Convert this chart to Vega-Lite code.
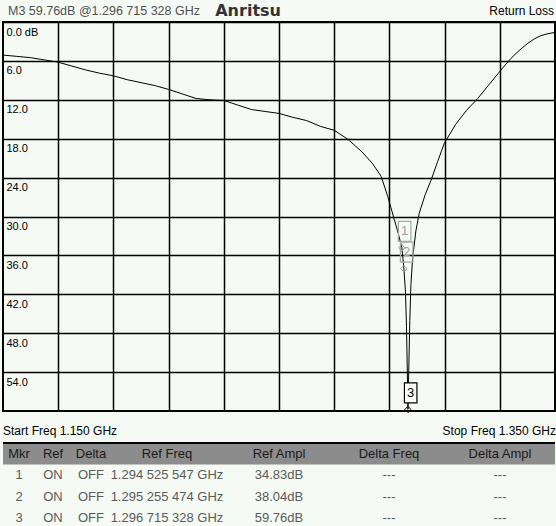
{
  "$schema": "https://vega.github.io/schema/vega-lite/v6.json",
  "background": "#f5faf5",
  "padding": {"left": 2, "top": 0, "right": 0, "bottom": 0},
  "autosize": {"type": "pad"},
  "spacing": 0,
  "bounds": "flush",
  "config": {"view": {"stroke": null}, "font": "Liberation Sans"},
  "datasets": {
    "header": [
      {"part": "readout", "label": "M3 59.76dB @1.296 715 328 GHz"},
      {"part": "logo", "label": "Anritsu"},
      {"part": "title", "label": "Return Loss"}
    ],
    "footer": [
      {"part": "start", "label": "Start Freq 1.150 GHz"},
      {"part": "stop", "label": "Stop Freq 1.350 GHz"}
    ],
    "trace": [
      {"f": 1.150, "db": 5.1}, {"f": 1.155, "db": 5.3}, {"f": 1.160, "db": 5.5}, {"f": 1.165, "db": 5.85},
      {"f": 1.170, "db": 6.2}, {"f": 1.175, "db": 6.8}, {"f": 1.180, "db": 7.4}, {"f": 1.185, "db": 7.9},
      {"f": 1.190, "db": 8.3}, {"f": 1.195, "db": 8.9}, {"f": 1.200, "db": 9.35}, {"f": 1.205, "db": 9.8},
      {"f": 1.210, "db": 10.4}, {"f": 1.215, "db": 11.1}, {"f": 1.220, "db": 11.8}, {"f": 1.225, "db": 12.0},
      {"f": 1.230, "db": 12.1}, {"f": 1.235, "db": 12.8}, {"f": 1.240, "db": 13.5}, {"f": 1.245, "db": 13.8},
      {"f": 1.250, "db": 14.1}, {"f": 1.255, "db": 14.7}, {"f": 1.260, "db": 15.2}, {"f": 1.265, "db": 16.1},
      {"f": 1.270, "db": 16.7}, {"f": 1.275, "db": 18.1}, {"f": 1.280, "db": 20.0}, {"f": 1.284, "db": 21.9},
      {"f": 1.287, "db": 23.8}, {"f": 1.2894, "db": 26.9}, {"f": 1.2918, "db": 30.5}, {"f": 1.2932, "db": 32.6},
      {"f": 1.294525547, "db": 34.83}, {"f": 1.295255474, "db": 38.04}, {"f": 1.2958, "db": 41.5},
      {"f": 1.2962, "db": 47.0}, {"f": 1.2965, "db": 54.0}, {"f": 1.296715328, "db": 59.76},
      {"f": 1.2970, "db": 54.0}, {"f": 1.2974, "db": 46.0}, {"f": 1.2978, "db": 40.5}, {"f": 1.2984, "db": 36.5},
      {"f": 1.2996, "db": 32.2}, {"f": 1.3008, "db": 29.5}, {"f": 1.3030, "db": 26.6}, {"f": 1.3051, "db": 24.4},
      {"f": 1.3075, "db": 21.5}, {"f": 1.3099, "db": 18.7}, {"f": 1.3140, "db": 15.8}, {"f": 1.3180, "db": 13.6},
      {"f": 1.3220, "db": 11.8}, {"f": 1.3260, "db": 9.7}, {"f": 1.3295, "db": 7.9}, {"f": 1.3320, "db": 6.6},
      {"f": 1.3341, "db": 5.6}, {"f": 1.3370, "db": 4.4}, {"f": 1.3401, "db": 3.3}, {"f": 1.3425, "db": 2.6},
      {"f": 1.3449, "db": 2.1}, {"f": 1.3475, "db": 1.8}, {"f": 1.3500, "db": 1.6}
    ],
    "markers": [
      {"m": "1", "f": 1.294525547, "db": 34.83},
      {"m": "2", "f": 1.295255474, "db": 38.04},
      {"m": "3", "f": 1.296715328, "db": 59.76}
    ],
    "table": [
      {"row": "hdr", "Mkr": "Mkr", "Ref": "Ref", "Delta": "Delta", "RefFreq": "Ref Freq", "RefAmpl": "Ref Ampl", "DeltaFreq": "Delta Freq", "DeltaAmpl": "Delta Ampl"},
      {"row": "1", "Mkr": "1", "Ref": "ON", "Delta": "OFF", "RefFreq": "1.294 525 547 GHz", "RefAmpl": "34.83dB", "DeltaFreq": "---", "DeltaAmpl": "---"},
      {"row": "2", "Mkr": "2", "Ref": "ON", "Delta": "OFF", "RefFreq": "1.295 255 474 GHz", "RefAmpl": "38.04dB", "DeltaFreq": "---", "DeltaAmpl": "---"},
      {"row": "3", "Mkr": "3", "Ref": "ON", "Delta": "OFF", "RefFreq": "1.296 715 328 GHz", "RefAmpl": "59.76dB", "DeltaFreq": "---", "DeltaAmpl": "---"}
    ]
  },
  "vconcat": [
    {
      "width": 552, "height": 22,
      "data": {"name": "header"},
      "layer": [
        {
          "transform": [{"filter": "datum.part === 'readout'"}],
          "mark": {"type": "text", "align": "left", "dx": 5, "fontSize": 12.5, "color": "#505050"},
          "encoding": {
            "x": {"datum": 1.15, "type": "quantitative", "scale": {"domain": [1.15, 1.35], "nice": false, "zero": false}, "axis": null},
            "text": {"field": "label"}
          }
        },
        {
          "transform": [{"filter": "datum.part === 'logo'"}],
          "mark": {"type": "text", "align": "center", "fontSize": 16, "fontWeight": "bold", "font": "DejaVu Sans", "color": "#333333"},
          "encoding": {
            "x": {"datum": 1.2388, "type": "quantitative"},
            "text": {"field": "label"}
          }
        },
        {
          "transform": [{"filter": "datum.part === 'title'"}],
          "mark": {"type": "text", "align": "right", "dx": -1, "fontSize": 12, "color": "#000000"},
          "encoding": {
            "x": {"datum": 1.35, "type": "quantitative"},
            "text": {"field": "label"}
          }
        }
      ]
    },
    {
      "width": 552, "height": 389,
      "view": {"stroke": "black", "strokeWidth": 2, "fill": "#f5faf5"},
      "layer": [
        {
          "data": {"name": "trace"},
          "mark": {"type": "line", "color": "black", "strokeWidth": 1, "clip": true},
          "encoding": {
            "x": {"field": "f", "type": "quantitative",
              "scale": {"domain": [1.15, 1.35], "nice": false, "zero": false},
              "axis": {"values": [1.17, 1.19, 1.21, 1.23, 1.25, 1.27, 1.29, 1.31, 1.33], "grid": true, "gridColor": "black", "gridWidth": 1.5, "gridOpacity": 1, "labels": false, "ticks": false, "domain": false, "title": null}},
            "y": {"field": "db", "type": "quantitative",
              "scale": {"domain": [0, 60], "reverse": true, "nice": false, "zero": false},
              "axis": {"values": [0, 6, 12, 18, 24, 30, 36, 42, 48, 54], "grid": true, "gridColor": "black", "gridWidth": 1.5, "gridOpacity": 1, "ticks": false, "tickSize": 0, "domain": false, "title": null,
                "labelAlign": "left", "labelBaseline": "top", "labelPadding": -3, "labelOffset": 4, "labelFontSize": 11, "labelFont": "Liberation Sans", "labelColor": "black",
                "labelExpr": "datum.value == 0 ? '0.0 dB' : format(datum.value, '.1f')", "labelOverlap": false, "labelFlush": false, "labelBound": false}}
          }
        },
        {
          "data": {"name": "markers"},
          "mark": {"type": "point", "shape": "diamond", "size": 40, "filled": false, "strokeWidth": 1, "opacity": 1},
          "encoding": {
            "x": {"field": "f", "type": "quantitative"},
            "y": {"field": "db", "type": "quantitative"},
            "stroke": {"condition": {"test": "datum.m === '3'", "value": "black"}, "value": "#a0a0a0"}
          }
        },
        {
          "data": {"name": "markers"},
          "mark": {"type": "point", "shape": "M-0.35,-2.65L0.9,-2.65L0.9,-0.65L-0.35,-0.65Z", "size": 400, "filled": true, "strokeWidth": 1.2, "opacity": 1},
          "encoding": {
            "x": {"field": "f", "type": "quantitative"},
            "y": {"field": "db", "type": "quantitative"},
            "stroke": {"condition": {"test": "datum.m === '3'", "value": "black"}, "value": "#a8a8a8"},
            "fill": {"condition": {"test": "datum.m === '3'", "value": "white"}, "value": "transparent"}
          }
        },
        {
          "data": {"name": "markers"},
          "mark": {"type": "text", "dx": 2.75, "dy": -16.5, "fontSize": 13, "baseline": "middle"},
          "encoding": {
            "x": {"field": "f", "type": "quantitative"},
            "y": {"field": "db", "type": "quantitative"},
            "text": {"field": "m"},
            "color": {"condition": {"test": "datum.m === '3'", "value": "black"}, "value": "#a0a0a0"}
          }
        }
      ]
    },
    {
      "width": 552, "height": 32,
      "data": {"name": "footer"},
      "layer": [
        {
          "transform": [{"filter": "datum.part === 'start'"}],
          "mark": {"type": "text", "align": "left", "dy": 3.5, "fontSize": 12, "color": "black"},
          "encoding": {
            "x": {"datum": 1.15, "type": "quantitative", "scale": {"domain": [1.15, 1.35], "nice": false, "zero": false}, "axis": null},
            "text": {"field": "label"}
          }
        },
        {
          "transform": [{"filter": "datum.part === 'stop'"}],
          "mark": {"type": "text", "align": "right", "dy": 3.5, "dx": 1, "fontSize": 12, "color": "black"},
          "encoding": {
            "x": {"datum": 1.35, "type": "quantitative"},
            "text": {"field": "label"}
          }
        }
      ]
    },
    {
      "hconcat": [
        {"width": 32, "height": 86, "data": {"name": "table"}, "layer": [
          {"transform": [{"filter": "datum.row === 'hdr'"}], "mark": {"type": "rect", "color": "#8c8c8c"}, "encoding": {"y": {"field": "row", "type": "nominal", "scale": {"type": "band", "domain": ["hdr", "1", "2", "3"], "paddingInner": 0, "paddingOuter": 0}, "axis": null}}},
          {"transform": [{"filter": "datum.row === 'hdr'"}], "mark": {"type": "rule", "color": "black", "strokeWidth": 2}, "encoding": {"y": {"field": "row", "type": "nominal", "bandPosition": 0}}},
          {"mark": {"type": "text", "fontSize": 13}, "encoding": {"y": {"field": "row", "type": "nominal"}, "text": {"field": "Mkr"}, "color": {"condition": {"test": "datum.row === 'hdr'", "value": "#1a1a1a"}, "value": "#5a5a5a"}}}
        ]},
        {"width": 36, "height": 86, "data": {"name": "table"}, "layer": [
          {"transform": [{"filter": "datum.row === 'hdr'"}], "mark": {"type": "rect", "color": "#8c8c8c"}, "encoding": {"y": {"field": "row", "type": "nominal", "scale": {"type": "band", "domain": ["hdr", "1", "2", "3"], "paddingInner": 0, "paddingOuter": 0}, "axis": null}}},
          {"transform": [{"filter": "datum.row === 'hdr'"}], "mark": {"type": "rule", "color": "black", "strokeWidth": 2}, "encoding": {"y": {"field": "row", "type": "nominal", "bandPosition": 0}}},
          {"mark": {"type": "text", "fontSize": 13}, "encoding": {"y": {"field": "row", "type": "nominal"}, "text": {"field": "Ref"}, "color": {"condition": {"test": "datum.row === 'hdr'", "value": "#1a1a1a"}, "value": "#5a5a5a"}}}
        ]},
        {"width": 38, "height": 86, "data": {"name": "table"}, "layer": [
          {"transform": [{"filter": "datum.row === 'hdr'"}], "mark": {"type": "rect", "color": "#8c8c8c"}, "encoding": {"y": {"field": "row", "type": "nominal", "scale": {"type": "band", "domain": ["hdr", "1", "2", "3"], "paddingInner": 0, "paddingOuter": 0}, "axis": null}}},
          {"transform": [{"filter": "datum.row === 'hdr'"}], "mark": {"type": "rule", "color": "black", "strokeWidth": 2}, "encoding": {"y": {"field": "row", "type": "nominal", "bandPosition": 0}}},
          {"mark": {"type": "text", "fontSize": 13, "dx": 1}, "encoding": {"y": {"field": "row", "type": "nominal"}, "text": {"field": "Delta"}, "color": {"condition": {"test": "datum.row === 'hdr'", "value": "#1a1a1a"}, "value": "#5a5a5a"}}}
        ]},
        {"width": 116, "height": 86, "data": {"name": "table"}, "layer": [
          {"transform": [{"filter": "datum.row === 'hdr'"}], "mark": {"type": "rect", "color": "#8c8c8c"}, "encoding": {"y": {"field": "row", "type": "nominal", "scale": {"type": "band", "domain": ["hdr", "1", "2", "3"], "paddingInner": 0, "paddingOuter": 0}, "axis": null}}},
          {"transform": [{"filter": "datum.row === 'hdr'"}], "mark": {"type": "rule", "color": "black", "strokeWidth": 2}, "encoding": {"y": {"field": "row", "type": "nominal", "bandPosition": 0}}},
          {"mark": {"type": "text", "fontSize": 13}, "encoding": {"y": {"field": "row", "type": "nominal"}, "text": {"field": "RefFreq"}, "color": {"condition": {"test": "datum.row === 'hdr'", "value": "#1a1a1a"}, "value": "#5a5a5a"}}}
        ]},
        {"width": 108, "height": 86, "data": {"name": "table"}, "layer": [
          {"transform": [{"filter": "datum.row === 'hdr'"}], "mark": {"type": "rect", "color": "#8c8c8c"}, "encoding": {"y": {"field": "row", "type": "nominal", "scale": {"type": "band", "domain": ["hdr", "1", "2", "3"], "paddingInner": 0, "paddingOuter": 0}, "axis": null}}},
          {"transform": [{"filter": "datum.row === 'hdr'"}], "mark": {"type": "rule", "color": "black", "strokeWidth": 2}, "encoding": {"y": {"field": "row", "type": "nominal", "bandPosition": 0}}},
          {"mark": {"type": "text", "fontSize": 13}, "encoding": {"y": {"field": "row", "type": "nominal"}, "text": {"field": "RefAmpl"}, "color": {"condition": {"test": "datum.row === 'hdr'", "value": "#1a1a1a"}, "value": "#5a5a5a"}}}
        ]},
        {"width": 112, "height": 86, "data": {"name": "table"}, "layer": [
          {"transform": [{"filter": "datum.row === 'hdr'"}], "mark": {"type": "rect", "color": "#8c8c8c"}, "encoding": {"y": {"field": "row", "type": "nominal", "scale": {"type": "band", "domain": ["hdr", "1", "2", "3"], "paddingInner": 0, "paddingOuter": 0}, "axis": null}}},
          {"transform": [{"filter": "datum.row === 'hdr'"}], "mark": {"type": "rule", "color": "black", "strokeWidth": 2}, "encoding": {"y": {"field": "row", "type": "nominal", "bandPosition": 0}}},
          {"mark": {"type": "text", "fontSize": 13}, "encoding": {"y": {"field": "row", "type": "nominal"}, "text": {"field": "DeltaFreq"}, "color": {"condition": {"test": "datum.row === 'hdr'", "value": "#1a1a1a"}, "value": "#5a5a5a"}}}
        ]},
        {"width": 110, "height": 86, "data": {"name": "table"}, "layer": [
          {"transform": [{"filter": "datum.row === 'hdr'"}], "mark": {"type": "rect", "color": "#8c8c8c"}, "encoding": {"y": {"field": "row", "type": "nominal", "scale": {"type": "band", "domain": ["hdr", "1", "2", "3"], "paddingInner": 0, "paddingOuter": 0}, "axis": null}}},
          {"transform": [{"filter": "datum.row === 'hdr'"}], "mark": {"type": "rule", "color": "black", "strokeWidth": 2}, "encoding": {"y": {"field": "row", "type": "nominal", "bandPosition": 0}}},
          {"mark": {"type": "text", "fontSize": 13}, "encoding": {"y": {"field": "row", "type": "nominal"}, "text": {"field": "DeltaAmpl"}, "color": {"condition": {"test": "datum.row === 'hdr'", "value": "#1a1a1a"}, "value": "#5a5a5a"}}}
        ]}
      ],
      "spacing": 0,
      "bounds": "flush"
    }
  ]
}
